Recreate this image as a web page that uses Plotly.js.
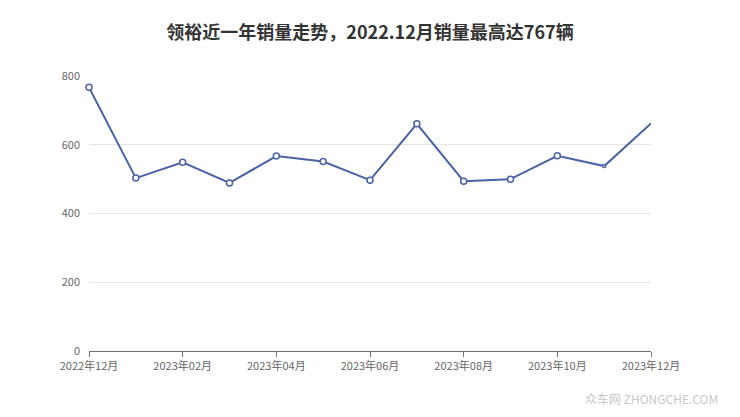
<!DOCTYPE html>
<html><head><meta charset="utf-8">
<script src="https://cdn.plot.ly/plotly-3.0.1.min.js"></script>
<style>body{margin:0;padding:0;background:#fff}#chart{width:740px;height:417px}</style>
</head><body><div id="chart"></div>
<script>
const months = ["2022年12月","2023年01月","2023年02月","2023年03月","2023年04月","2023年05月","2023年06月","2023年07月","2023年08月","2023年09月","2023年10月","2023年11月","2023年12月"];
const sales = [767, 503, 549, 489, 567, 551, 497, 661, 494, 500, 568, 538, 662];
const tickLabels = ["2022年12月","2023年02月","2023年04月","2023年06月","2023年08月","2023年10月","2023年12月"];
const markerSizes = months.map((m, i) => i < 11 ? 6 : (i === 11 ? 3 : 0));
const xIdx = months.map((m, i) => i);
const tickIdx = tickLabels.map(t => months.indexOf(t));

const font = '"Noto Sans CJK SC", "Liberation Sans", sans-serif';
Plotly.newPlot('chart', [{
  x: xIdx, y: sales, customdata: months, type: 'scatter', mode: 'lines+markers', cliponaxis: false,
  line: {color: '#4a61a6', width: 2},
  marker: {size: markerSizes, color: '#ffffff', opacity: 1, line: {color: '#4a61a6', width: 1.5}},
  hovertemplate: '%{customdata}: %{y}<extra></extra>'
}], {
  width: 740, height: 417,
  margin: {l: 89, r: 89, t: 76, b: 66},
  paper_bgcolor: '#fff', plot_bgcolor: '#fff',
  showlegend: false,
  title: {text: '<b>领裕近一年销量走势，2022.12月销量最高达767辆</b>', x: 0.5, xanchor: 'center', y: 0.922, yanchor: 'middle',
          font: {family: font, size: 18, color: '#333'}},
  xaxis: {range: [0, 12], tickvals: tickIdx, ticktext: tickLabels, showgrid: false, zeroline: false,
          showline: true, linecolor: '#6e7079', linewidth: 1, ticks: 'outside', ticklen: 5, tickcolor: '#6e7079',
          tickfont: {family: font, size: 11, color: '#666'}},
  yaxis: {range: [0, 800], tickvals: [0, 200, 400, 600, 800], showgrid: true, gridcolor: '#e6e6e6', zeroline: false,
          showline: false, ticks: '', ticklabelstandoff: 8,
          tickfont: {family: font, size: 11, color: '#666'}},
  annotations: [{text: '众车网 ZHONGCHE.COM', xref: 'paper', yref: 'paper', x: 1.123, y: -0.171, xanchor: 'right', yanchor: 'middle',
                 showarrow: false, font: {family: font, size: 12, color: '#c8c8c8'}}]
}, {displayModeBar: false, staticPlot: true});
</script></body></html>
